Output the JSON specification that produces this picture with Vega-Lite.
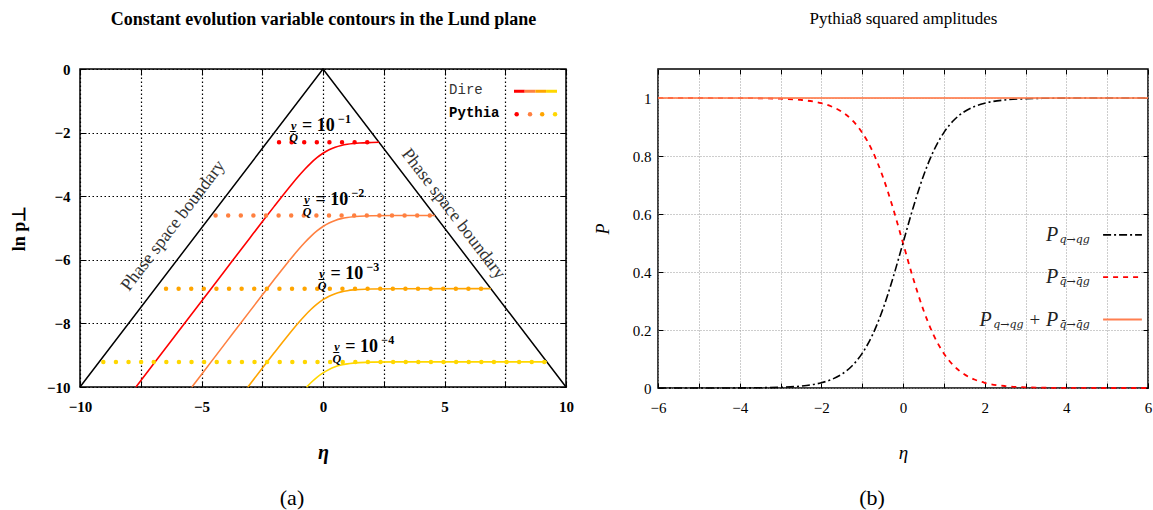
{
  "$schema": "https://vega.github.io/schema/vega-lite/v6.json",
  "padding": {"left": 9, "top": 8, "right": 2, "bottom": 0},
  "spacing": 18,
  "config": {
    "view": {"stroke": "black", "strokeWidth": 1.5},
    "font": "Liberation Serif",
    "axis": {"labelColor": "black", "titleColor": "black", "tickColor": "black", "domain": false, "labelFlush": false, "labelOverlap": false, "tickWidth": 1}
  },
  "datasets": {
    "boundary": [
      {"eta": -10, "lnpt": -10}, {"eta": 0, "lnpt": 0}, {"eta": 10, "lnpt": -10}
    ],
    "dire": [
      {"v": "1e-1", "eta": -7.697, "lnpt": -10.0}, {"v": "1e-1", "eta": -6, "lnpt": -8.303}, {"v": "1e-1", "eta": -5, "lnpt": -7.303}, {"v": "1e-1", "eta": -4, "lnpt": -6.303}, {"v": "1e-1", "eta": -3, "lnpt": -5.304}, {"v": "1e-1", "eta": -2.5, "lnpt": -4.806}, {"v": "1e-1", "eta": -2, "lnpt": -4.312}, {"v": "1e-1", "eta": -1.5, "lnpt": -3.827}, {"v": "1e-1", "eta": -1.25, "lnpt": -3.592}, {"v": "1e-1", "eta": -1, "lnpt": -3.366}, {"v": "1e-1", "eta": -0.75, "lnpt": -3.153}, {"v": "1e-1", "eta": -0.5, "lnpt": -2.959}, {"v": "1e-1", "eta": -0.25, "lnpt": -2.79}, {"v": "1e-1", "eta": 0, "lnpt": -2.649}, {"v": "1e-1", "eta": 0.25, "lnpt": -2.54}, {"v": "1e-1", "eta": 0.5, "lnpt": -2.459}, {"v": "1e-1", "eta": 0.75, "lnpt": -2.403}, {"v": "1e-1", "eta": 1, "lnpt": -2.366}, {"v": "1e-1", "eta": 1.25, "lnpt": -2.342}, {"v": "1e-1", "eta": 1.5, "lnpt": -2.327}, {"v": "1e-1", "eta": 2, "lnpt": -2.312}, {"v": "1e-1", "eta": 2.305, "lnpt": -2.305},
      {"v": "1e-2", "eta": -5.395, "lnpt": -10.0}, {"v": "1e-2", "eta": -5, "lnpt": -9.605}, {"v": "1e-2", "eta": -4, "lnpt": -8.605}, {"v": "1e-2", "eta": -3, "lnpt": -7.606}, {"v": "1e-2", "eta": -2.5, "lnpt": -7.109}, {"v": "1e-2", "eta": -2, "lnpt": -6.614}, {"v": "1e-2", "eta": -1.5, "lnpt": -6.13}, {"v": "1e-2", "eta": -1.25, "lnpt": -5.895}, {"v": "1e-2", "eta": -1, "lnpt": -5.669}, {"v": "1e-2", "eta": -0.75, "lnpt": -5.456}, {"v": "1e-2", "eta": -0.5, "lnpt": -5.262}, {"v": "1e-2", "eta": -0.25, "lnpt": -5.092}, {"v": "1e-2", "eta": 0, "lnpt": -4.952}, {"v": "1e-2", "eta": 0.25, "lnpt": -4.842}, {"v": "1e-2", "eta": 0.5, "lnpt": -4.762}, {"v": "1e-2", "eta": 0.75, "lnpt": -4.706}, {"v": "1e-2", "eta": 1, "lnpt": -4.669}, {"v": "1e-2", "eta": 1.25, "lnpt": -4.645}, {"v": "1e-2", "eta": 1.5, "lnpt": -4.63}, {"v": "1e-2", "eta": 2, "lnpt": -4.614}, {"v": "1e-2", "eta": 3, "lnpt": -4.606}, {"v": "1e-2", "eta": 4.605, "lnpt": -4.605},
      {"v": "1e-3", "eta": -3.091, "lnpt": -10.0}, {"v": "1e-3", "eta": -2.5, "lnpt": -9.411}, {"v": "1e-3", "eta": -2, "lnpt": -8.917}, {"v": "1e-3", "eta": -1.5, "lnpt": -8.432}, {"v": "1e-3", "eta": -1.25, "lnpt": -8.197}, {"v": "1e-3", "eta": -1, "lnpt": -7.971}, {"v": "1e-3", "eta": -0.75, "lnpt": -7.759}, {"v": "1e-3", "eta": -0.5, "lnpt": -7.564}, {"v": "1e-3", "eta": -0.25, "lnpt": -7.395}, {"v": "1e-3", "eta": 0, "lnpt": -7.254}, {"v": "1e-3", "eta": 0.25, "lnpt": -7.145}, {"v": "1e-3", "eta": 0.5, "lnpt": -7.064}, {"v": "1e-3", "eta": 0.75, "lnpt": -7.008}, {"v": "1e-3", "eta": 1, "lnpt": -6.971}, {"v": "1e-3", "eta": 1.25, "lnpt": -6.947}, {"v": "1e-3", "eta": 1.5, "lnpt": -6.932}, {"v": "1e-3", "eta": 2, "lnpt": -6.917}, {"v": "1e-3", "eta": 3, "lnpt": -6.909}, {"v": "1e-3", "eta": 6.908, "lnpt": -6.908},
      {"v": "1e-4", "eta": -0.675, "lnpt": -10.0}, {"v": "1e-4", "eta": -0.5, "lnpt": -9.867}, {"v": "1e-4", "eta": -0.25, "lnpt": -9.697}, {"v": "1e-4", "eta": 0, "lnpt": -9.557}, {"v": "1e-4", "eta": 0.25, "lnpt": -9.447}, {"v": "1e-4", "eta": 0.5, "lnpt": -9.367}, {"v": "1e-4", "eta": 0.75, "lnpt": -9.311}, {"v": "1e-4", "eta": 1, "lnpt": -9.274}, {"v": "1e-4", "eta": 1.25, "lnpt": -9.25}, {"v": "1e-4", "eta": 1.5, "lnpt": -9.235}, {"v": "1e-4", "eta": 2, "lnpt": -9.219}, {"v": "1e-4", "eta": 3, "lnpt": -9.211}, {"v": "1e-4", "eta": 9.21, "lnpt": -9.21}
    ],
    "pythia": [
      {"v": "1e-1", "eta": -1.81, "lnpt": -2.303}, {"v": "1e-1", "eta": 2.3, "lnpt": -2.303},
      {"v": "1e-2", "eta": -4.42, "lnpt": -4.605}, {"v": "1e-2", "eta": 4.55, "lnpt": -4.605},
      {"v": "1e-3", "eta": -6.46, "lnpt": -6.908}, {"v": "1e-3", "eta": 6.88, "lnpt": -6.908},
      {"v": "1e-4", "eta": -9.04, "lnpt": -9.21}, {"v": "1e-4", "eta": 9.14, "lnpt": -9.21}
    ],
    "direLegend": [
      {"v": "1e-1", "eta": 7.86, "lnpt": -0.7}, {"v": "1e-1", "eta": 8.3, "lnpt": -0.7},
      {"v": "1e-2", "eta": 8.3, "lnpt": -0.7}, {"v": "1e-2", "eta": 8.74, "lnpt": -0.7},
      {"v": "1e-3", "eta": 8.74, "lnpt": -0.7}, {"v": "1e-3", "eta": 9.18, "lnpt": -0.7},
      {"v": "1e-4", "eta": 9.18, "lnpt": -0.7}, {"v": "1e-4", "eta": 9.63, "lnpt": -0.7}
    ],
    "pythiaLegend": [
      {"v": "1e-1", "eta": 7.97, "lnpt": -1.42}, {"v": "1e-2", "eta": 8.52, "lnpt": -1.42},
      {"v": "1e-3", "eta": 9.02, "lnpt": -1.42}, {"v": "1e-4", "eta": 9.55, "lnpt": -1.42}
    ],
    "labels": [
      {"fx": -1.21, "ex": -0.86, "lnpt": -1.79, "t": "= 10", "e": "−1"},
      {"fx": -0.66, "ex": -0.31, "lnpt": -4.12, "t": "= 10", "e": "−2"},
      {"fx": -0.04, "ex": 0.31, "lnpt": -6.45, "t": "= 10", "e": "−3"},
      {"fx": 0.57, "ex": 0.92, "lnpt": -8.75, "t": "= 10", "e": "−4"}
    ],
    "amps": [
      {"eta": -6, "pq": 0.000006, "pqb": 0.999994}, {"eta": -5, "pq": 0.000045, "pqb": 0.999955}, {"eta": -4.5, "pq": 0.000123, "pqb": 0.999877}, {"eta": -4, "pq": 0.000335, "pqb": 0.999665}, {"eta": -3.5, "pq": 0.000911, "pqb": 0.999089}, {"eta": -3, "pq": 0.002473, "pqb": 0.997527}, {"eta": -2.5, "pq": 0.006693, "pqb": 0.993307}, {"eta": -2, "pq": 0.017986, "pqb": 0.982014}, {"eta": -1.75, "pq": 0.029312, "pqb": 0.970688}, {"eta": -1.5, "pq": 0.047426, "pqb": 0.952574}, {"eta": -1.25, "pq": 0.075858, "pqb": 0.924142}, {"eta": -1, "pq": 0.119203, "pqb": 0.880797}, {"eta": -0.75, "pq": 0.182426, "pqb": 0.817574}, {"eta": -0.5, "pq": 0.268941, "pqb": 0.731059}, {"eta": -0.25, "pq": 0.377541, "pqb": 0.622459}, {"eta": 0, "pq": 0.5, "pqb": 0.5}, {"eta": 0.25, "pq": 0.622459, "pqb": 0.377541}, {"eta": 0.5, "pq": 0.731059, "pqb": 0.268941}, {"eta": 0.75, "pq": 0.817574, "pqb": 0.182426}, {"eta": 1, "pq": 0.880797, "pqb": 0.119203}, {"eta": 1.25, "pq": 0.924142, "pqb": 0.075858}, {"eta": 1.5, "pq": 0.952574, "pqb": 0.047426}, {"eta": 1.75, "pq": 0.970688, "pqb": 0.029312}, {"eta": 2, "pq": 0.982014, "pqb": 0.017986}, {"eta": 2.5, "pq": 0.993307, "pqb": 0.006693}, {"eta": 3, "pq": 0.997527, "pqb": 0.002473}, {"eta": 3.5, "pq": 0.999089, "pqb": 0.000911}, {"eta": 4, "pq": 0.999665, "pqb": 0.000335}, {"eta": 4.5, "pq": 0.999877, "pqb": 0.000123}, {"eta": 5, "pq": 0.999955, "pqb": 0.000045}, {"eta": 6, "pq": 0.999994, "pqb": 0.000006}
    ],
    "sum": [{"eta": -6, "p": 1}, {"eta": 6, "p": 1}]
  },
  "hconcat": [
    {
      "width": 486,
      "height": 318,
      "title": {"text": "(a)", "orient": "bottom", "fontSize": 22, "fontWeight": "normal", "font": "Liberation Serif", "dx": -31, "offset": 26},
      "resolve": {"axis": {"x": "independent", "y": "independent"}},
      "layer": [
        {
          "data": {"name": "boundary"},
          "mark": {"type": "line", "color": "black", "strokeWidth": 1.5},
          "encoding": {
            "x": {"field": "eta", "type": "quantitative", "scale": {"domain": [-10, 10], "nice": false, "zero": false},
              "axis": {"orient": "bottom", "values": [-10, -7.5, -5, -2.5, 0, 2.5, 5, 7.5, 10], "labelExpr": "datum.value % 5 == 0 ? replace(datum.label, '-', '−') : ''", "grid": true, "gridColor": "black", "gridDash": [1.5, 2.5], "gridOpacity": 1, "gridWidth": 1.2, "tickSize": -6, "labelPadding": 18, "labelFont": "Liberation Serif", "labelFontWeight": "bold", "labelFontSize": 15, "title": "η", "titleFont": "Liberation Serif", "titleFontStyle": "italic", "titleFontWeight": "bold", "titleFontSize": 20, "titlePadding": 28}},
            "y": {"field": "lnpt", "type": "quantitative", "scale": {"domain": [-10, 0], "nice": false, "zero": false},
              "axis": {"orient": "left", "values": [0, -2, -4, -6, -8, -10], "labelExpr": "replace(datum.label, '-', '−')", "grid": true, "gridColor": "black", "gridDash": [1.5, 2.5], "gridOpacity": 1, "gridWidth": 1.2, "tickSize": -6, "labelPadding": 16, "labelFont": "Liberation Serif", "labelFontWeight": "bold", "labelFontSize": 15, "title": "ln p⊥", "titleFont": "Liberation Serif", "titleFontWeight": "bold", "titleFontSize": 18, "titlePadding": 18}}
          }
        },
        {
          "data": {"name": "dire"},
          "mark": {"type": "line", "strokeWidth": 1.6, "interpolate": "monotone"},
          "encoding": {
            "x": {"field": "eta", "type": "quantitative",
              "axis": {"orient": "top", "values": [-10, -7.5, -5, -2.5, 0, 2.5, 5, 7.5, 10], "labels": false, "grid": false, "tickSize": -6, "title": "Constant evolution variable contours in the Lund plane", "titleFont": "Liberation Serif", "titleFontWeight": "bold", "titleFontSize": 18, "titlePadding": 40}},
            "y": {"field": "lnpt", "type": "quantitative",
              "axis": {"orient": "right", "values": [0, -2, -4, -6, -8, -10], "labels": false, "grid": false, "tickSize": -6, "title": null}},
            "color": {"field": "v", "type": "nominal", "scale": {"domain": ["1e-1", "1e-2", "1e-3", "1e-4"], "range": ["#ff0000", "#ff8040", "#ffa500", "#ffd700"]}, "legend": null}
          }
        },
        {
          "data": {"name": "pythia"},
          "mark": {"type": "line", "strokeWidth": 4.5, "strokeDash": [0, 12.6], "strokeCap": "round"},
          "encoding": {
            "x": {"field": "eta", "type": "quantitative", "axis": null},
            "y": {"field": "lnpt", "type": "quantitative", "axis": null},
            "color": {"field": "v", "type": "nominal", "legend": null}
          }
        },
        {
          "data": {"name": "direLegend"},
          "mark": {"type": "line", "strokeWidth": 3},
          "encoding": {
            "x": {"field": "eta", "type": "quantitative", "axis": null},
            "y": {"field": "lnpt", "type": "quantitative", "axis": null},
            "color": {"field": "v", "type": "nominal", "legend": null}
          }
        },
        {
          "data": {"name": "pythiaLegend"},
          "mark": {"type": "circle", "size": 20, "opacity": 1},
          "encoding": {
            "x": {"field": "eta", "type": "quantitative", "axis": null},
            "y": {"field": "lnpt", "type": "quantitative", "axis": null},
            "color": {"field": "v", "type": "nominal", "legend": null}
          }
        },
        {
          "data": {"values": [{"eta": 5.19, "lnpt": -0.66, "t": "Dire"}]},
          "mark": {"type": "text", "align": "left", "baseline": "middle", "font": "Liberation Mono", "fontSize": 14, "color": "#333"},
          "encoding": {
            "x": {"field": "eta", "type": "quantitative", "axis": null},
            "y": {"field": "lnpt", "type": "quantitative", "axis": null},
            "text": {"field": "t"}
          }
        },
        {
          "data": {"values": [{"eta": 5.19, "lnpt": -1.38, "t": "Pythia"}]},
          "mark": {"type": "text", "align": "left", "baseline": "middle", "font": "Liberation Mono", "fontSize": 14, "fontWeight": "bold", "color": "black"},
          "encoding": {
            "x": {"field": "eta", "type": "quantitative", "axis": null},
            "y": {"field": "lnpt", "type": "quantitative", "axis": null},
            "text": {"field": "t"}
          }
        },
        {
          "data": {"name": "labels"},
          "mark": {"type": "text", "align": "left", "baseline": "middle", "font": "Liberation Serif", "fontSize": 18, "fontWeight": "bold", "color": "black"},
          "encoding": {
            "x": {"field": "ex", "type": "quantitative", "axis": null},
            "y": {"field": "lnpt", "type": "quantitative", "axis": null},
            "text": {"field": "t"}
          }
        },
        {
          "data": {"name": "labels"},
          "mark": {"type": "text", "align": "left", "baseline": "middle", "dx": 36, "dy": -7, "font": "Liberation Serif", "fontSize": 12, "fontWeight": "bold", "color": "black"},
          "encoding": {
            "x": {"field": "ex", "type": "quantitative", "axis": null},
            "y": {"field": "lnpt", "type": "quantitative", "axis": null},
            "text": {"field": "e"}
          }
        },
        {
          "data": {"name": "labels"},
          "mark": {"type": "text", "align": "center", "baseline": "middle", "font": "Liberation Serif", "fontSize": 12, "fontWeight": "bold", "fontStyle": "italic", "lineHeight": 12, "lineBreak": "|", "color": "black"},
          "encoding": {
            "x": {"field": "fx", "type": "quantitative", "axis": null},
            "y": {"field": "lnpt", "type": "quantitative", "axis": null},
            "text": {"value": "v̲|Q"}
          }
        },
        {
          "data": {"values": [{"eta": -6.16, "lnpt": -4.93, "t": "Phase space boundary"}]},
          "mark": {"type": "text", "align": "center", "baseline": "middle", "angle": 307.4, "font": "Liberation Serif", "fontSize": 18, "color": "#333"},
          "encoding": {
            "x": {"field": "eta", "type": "quantitative", "axis": null},
            "y": {"field": "lnpt", "type": "quantitative", "axis": null},
            "text": {"field": "t"}
          }
        },
        {
          "data": {"values": [{"eta": 5.36, "lnpt": -4.56, "t": "Phase space boundary"}]},
          "mark": {"type": "text", "align": "center", "baseline": "middle", "angle": 52.6, "font": "Liberation Serif", "fontSize": 18, "color": "#333"},
          "encoding": {
            "x": {"field": "eta", "type": "quantitative", "axis": null},
            "y": {"field": "lnpt", "type": "quantitative", "axis": null},
            "text": {"field": "t"}
          }
        }
      ]
    },
    {
      "width": 490,
      "height": 319,
      "title": {"text": "(b)", "orient": "bottom", "fontSize": 22, "fontWeight": "normal", "font": "Liberation Serif", "dx": -31, "offset": 26},
      "resolve": {"axis": {"x": "independent", "y": "independent"}},
      "layer": [
        {
          "data": {"name": "amps"},
          "mark": {"type": "line", "color": "#ff0000", "strokeWidth": 1.8, "strokeDash": [5, 5], "interpolate": "monotone"},
          "encoding": {
            "x": {"field": "eta", "type": "quantitative", "scale": {"domain": [-6, 6], "nice": false, "zero": false},
              "axis": {"orient": "bottom", "values": [-6, -5, -4, -3, -2, -1, 0, 1, 2, 3, 4, 5, 6], "labelExpr": "datum.value % 2 == 0 ? replace(datum.label, '-', '−') : ''", "grid": true, "gridColor": "#9a9a9a", "gridDash": [1, 2], "gridOpacity": 1, "gridWidth": 1, "tickSize": -5, "labelPadding": 17, "labelFont": "Liberation Serif", "labelFontSize": 15, "title": "η", "titleFont": "Liberation Serif", "titleFontStyle": "italic", "titleFontWeight": "normal", "titleFontSize": 19, "titlePadding": 28}},
            "y": {"field": "pqb", "type": "quantitative", "scale": {"domain": [0, 1.1], "nice": false, "zero": false},
              "axis": {"orient": "left", "values": [0, 0.2, 0.4, 0.6, 0.8, 1], "format": "~g", "grid": true, "gridColor": "#9a9a9a", "gridDash": [1, 2], "gridOpacity": 1, "gridWidth": 1, "tickSize": -5, "labelPadding": 12, "labelFont": "Liberation Serif", "labelFontSize": 15, "title": "P", "titleFont": "Liberation Serif", "titleFontStyle": "italic", "titleFontWeight": "normal", "titleFontSize": 18, "titlePadding": 20}}
          }
        },
        {
          "data": {"name": "amps"},
          "mark": {"type": "line", "color": "black", "strokeWidth": 1.6, "strokeDash": [8, 3, 2, 3], "interpolate": "monotone"},
          "encoding": {
            "x": {"field": "eta", "type": "quantitative",
              "axis": {"orient": "top", "values": [-6, -5, -4, -3, -2, -1, 0, 1, 2, 3, 4, 5, 6], "labels": false, "grid": false, "tickSize": -5, "title": "Pythia8 squared amplitudes", "titleFont": "Liberation Serif", "titleFontWeight": "normal", "titleFontSize": 17, "titlePadding": 41}},
            "y": {"field": "pq", "type": "quantitative",
              "axis": {"orient": "right", "values": [0, 0.2, 0.4, 0.6, 0.8, 1], "labels": false, "grid": false, "tickSize": -5, "title": null}}
          }
        },
        {
          "data": {"name": "sum"},
          "mark": {"type": "line", "color": "#ff7f50", "strokeWidth": 2, "opacity": 0.85},
          "encoding": {
            "x": {"field": "eta", "type": "quantitative", "axis": null},
            "y": {"field": "p", "type": "quantitative", "axis": null}
          }
        },
        {
          "data": {"values": [{"x1": 4.9, "x2": 5.85, "p": 0.528}]},
          "mark": {"type": "rule", "color": "black", "strokeWidth": 1.6, "strokeDash": [8, 3, 2, 3]},
          "encoding": {
            "x": {"field": "x1", "type": "quantitative", "axis": null},
            "x2": {"field": "x2"},
            "y": {"field": "p", "type": "quantitative", "axis": null}
          }
        },
        {
          "data": {"values": [{"x1": 4.9, "x2": 5.85, "p": 0.382}]},
          "mark": {"type": "rule", "color": "#ff0000", "strokeWidth": 1.8, "strokeDash": [5, 5]},
          "encoding": {
            "x": {"field": "x1", "type": "quantitative", "axis": null},
            "x2": {"field": "x2"},
            "y": {"field": "p", "type": "quantitative", "axis": null}
          }
        },
        {
          "data": {"values": [{"x1": 4.9, "x2": 5.85, "p": 0.236}]},
          "mark": {"type": "rule", "color": "#ff7f50", "strokeWidth": 2},
          "encoding": {
            "x": {"field": "x1", "type": "quantitative", "axis": null},
            "x2": {"field": "x2"},
            "y": {"field": "p", "type": "quantitative", "axis": null}
          }
        },
        {
          "data": {"values": [{"x": 3.8, "p": 0.528, "t": "P"}, {"x": 3.8, "p": 0.382, "t": "P"}, {"x": 2.17, "p": 0.236, "t": "P"}, {"x": 3.8, "p": 0.236, "t": "P"}]},
          "mark": {"type": "text", "align": "right", "baseline": "middle", "font": "Liberation Serif", "fontStyle": "italic", "fontSize": 20, "color": "#222"},
          "encoding": {
            "x": {"field": "x", "type": "quantitative", "axis": null},
            "y": {"field": "p", "type": "quantitative", "axis": null},
            "text": {"field": "t"}
          }
        },
        {
          "data": {"values": [{"x": 3.83, "p": 0.528, "t": "q→qg"}, {"x": 3.83, "p": 0.382, "t": "q̄→q̄g"}, {"x": 2.21, "p": 0.236, "t": "q→qg"}, {"x": 3.83, "p": 0.236, "t": "q̄→q̄g"}]},
          "mark": {"type": "text", "align": "left", "baseline": "middle", "dy": 5, "font": "DejaVu Serif", "fontStyle": "italic", "fontSize": 11, "color": "#222"},
          "encoding": {
            "x": {"field": "x", "type": "quantitative", "axis": null},
            "y": {"field": "p", "type": "quantitative", "axis": null},
            "text": {"field": "t"}
          }
        },
        {
          "data": {"values": [{"x": 3.23, "p": 0.236, "t": "+"}]},
          "mark": {"type": "text", "align": "center", "baseline": "middle", "font": "Liberation Serif", "fontSize": 19, "color": "#222"},
          "encoding": {
            "x": {"field": "x", "type": "quantitative", "axis": null},
            "y": {"field": "p", "type": "quantitative", "axis": null},
            "text": {"field": "t"}
          }
        }
      ]
    }
  ]
}
